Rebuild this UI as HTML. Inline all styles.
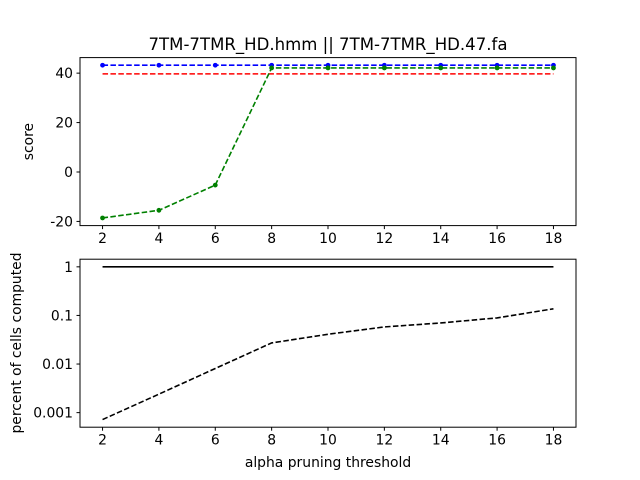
<!DOCTYPE html>
<html><head><meta charset="utf-8"><style>
body{margin:0;background:#fff}
svg{display:block;font-family:"DejaVu Sans","Liberation Sans",sans-serif}
</style></head><body>
<svg id="chart" width="640" height="480" viewBox="0 0 640 480"></svg>
<script>
const xs=[2,4,6,8,10,12,14,16,18];
const blueScores=[43.2,43.2,43.2,43.2,43.2,43.2,43.2,43.2,43.2];
const redScores=[39.7,39.7,39.7,39.7,39.7,39.7,39.7,39.7,39.7];
const greenScores=[-18.6,-15.5,-5.3,42.1,42.1,42.1,42.1,42.1,42.1];
const fullCells=[1,1,1,1,1,1,1,1,1];
const prunedCells=[0.00072,0.0024,0.0081,0.0272,0.041,0.058,0.070,0.089,0.137];
const xTicks=[2,4,6,8,10,12,14,16,18];
const topYTicks=[-20,0,20,40];
const botYTicks=[1,0.1,0.01,0.001];
const botYLabels=["1","0.1","0.01","0.001"];

const NS="http://www.w3.org/2000/svg";
const svg=document.getElementById('chart');
function mk(tag,attrs,parent){const e=document.createElementNS(NS,tag);for(const k in attrs)e.setAttribute(k,attrs[k]);(parent||svg).appendChild(e);return e;}
const L=80,R=576;
const FS='13.9';
const xmin=Math.min(...xs),xmax=Math.max(...xs),xm=(xmax-xmin)*0.05;
const X=v=>L+(v-xmin+xm)/(xmax-xmin+2*xm)*(R-L);
const T1=57.6,B1=225.6;
const all=[...blueScores,...redScores,...greenScores];
let y0=Math.min(...all),y1=Math.max(...all),ym=(y1-y0)*0.05;y0-=ym;y1+=ym;
const Y1=v=>B1-(v-y0)/(y1-y0)*(B1-T1);
const T2=259.2,B2=427.2;
const lv=[...fullCells,...prunedCells].map(Math.log10);
let l0=Math.min(...lv),l1=Math.max(...lv),lm=(l1-l0)*0.05;l0-=lm;l1+=lm;
const Y2=v=>B2-(Math.log10(v)-l0)/(l1-l0)*(B2-T2);

function axes(T,B,name,yt,ylab,Yf){
  const g=mk('g',{});
  
  
  mk('rect',{x:L,y:T,width:R-L,height:B-T,fill:'none',stroke:'#000','stroke-width':1},g);
  xTicks.forEach(t=>{const x=X(t);mk('line',{x1:x,x2:x,y1:B,y2:B+3.5,stroke:'#000'},g);
    const tx=mk('text',{x:x,y:B+17.5,'text-anchor':'middle','font-size':FS},g);tx.textContent=t;
    
    });
  yt.forEach((t,i)=>{const y=Yf(t);mk('line',{x1:L-3.5,x2:L,y1:y,y2:y,stroke:'#000'},g);
    const tx=mk('text',{x:L-7,y:y+5,'text-anchor':'end','font-size':FS},g);tx.textContent=ylab?ylab[i]:t;
    
    });
  return g;
}
function line(vals,Yf,color,dash,marker,name){
  const g=mk('g',{});
  
  
  const pts=xs.map((x,i)=>X(x)+','+Yf(vals[i])).join(' ');
  const a={points:pts,fill:'none',stroke:color,'stroke-width':1.6};
  if(dash)a['stroke-dasharray']='5.5,2.4';
  mk('polyline',a,g);
  if(marker)xs.forEach((x,i)=>mk('circle',{cx:X(x),cy:Yf(vals[i]),r:2.4,fill:color},g));
}
axes(T1,B1,'score-axes',topYTicks,null,Y1);
line(redScores,Y1,'#ff0000',true,false,'red-score-line');
line(blueScores,Y1,'#0000ff',true,true,'blue-score-line');
line(greenScores,Y1,'#008000',true,true,'green-score-line');
axes(T2,B2,'cells-axes',botYTicks,botYLabels,Y2);
line(fullCells,Y2,'#000',false,false,'full-cells-line');
line(prunedCells,Y2,'#000',true,false,'pruned-cells-line');

let t=mk('text',{x:328,y:50,'text-anchor':'middle','font-size':'16.6',textLength:'359',lengthAdjust:'spacingAndGlyphs'});t.textContent='7TM-7TMR_HD.hmm || 7TM-7TMR_HD.47.fa';


t=mk('text',{x:33,y:141.6,'text-anchor':'middle','font-size':FS,transform:'rotate(-90 33 141.6)'});t.textContent='score';


t=mk('text',{x:21,y:343,'text-anchor':'middle','font-size':FS,transform:'rotate(-90 21 343)'});t.textContent='percent of cells computed';


t=mk('text',{x:328,y:467,'text-anchor':'middle','font-size':FS});t.textContent='alpha pruning threshold';


</script>
</body></html>
